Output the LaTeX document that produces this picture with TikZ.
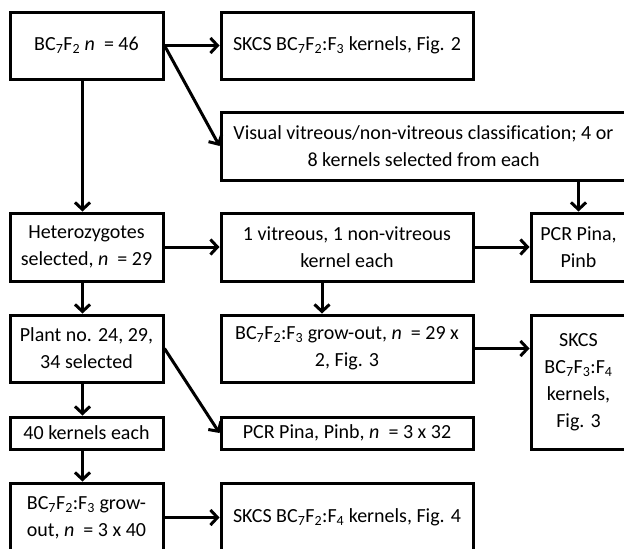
\documentclass[tikz,border=0pt]{standalone}
\usepackage{fontspec}
\setmainfont{Carlito}[Ligatures=NoCommon]
\usetikzlibrary{arrows.meta}
\newcommand\sbs[1]{\textsubscript{#1}}
\begin{document}
\begin{tikzpicture}[x=1pt,y=-1pt,
  box/.style={draw, line width=3pt, rectangle, inner sep=0pt, align=center,
    font=\fontsize{20}{27}\selectfont},
  arr/.style={line width=3pt, -{Straight Barb[length=7pt,width=15pt,line width=3pt]}}]
\useasboundingbox (0,0) rectangle (624,549);
\fill[white] (0,0) rectangle (624,549);
\clip (0,0) rectangle (624,549);
% left column
\node[box, minimum width=153pt, minimum height=67pt] (A) at (86.5,45.5) {BC\sbs{7}F\sbs{2} \textit{n} \ = 46};
\node[box, minimum width=153pt, minimum height=68pt] (D) at (86.5,247) {Heterozygotes\\selected, \textit{n} \ = 29};
\node[box, minimum width=153pt, minimum height=67pt] (G) at (86.5,348.5) {Plant no. 24, 29,\\34 selected};
\node[box, minimum width=153pt, minimum height=32pt] (J) at (86.5,433) {40 kernels each};
\node[box, minimum width=153pt, minimum height=69pt] (L) at (86.5,517.5) {BC\sbs{7}F\sbs{2}:F\sbs{3} grow-\\out, \textit{n} \ = 3 x 40};
% middle column
\node[box, minimum width=252pt, minimum height=67pt] (B) at (347,45.5) {SKCS BC\sbs{7}F\sbs{2}:F\sbs{3} kernels, Fig. 2};
\node[box, minimum width=405pt, minimum height=68pt] (C) at (423.5,146) {Visual vitreous/non-vitreous classification; 4 or\\8 kernels selected from each};
\node[box, minimum width=252pt, minimum height=68pt] (E) at (347,247) {1 vitreous, 1 non-vitreous\\kernel each};
\node[box, minimum width=252pt, minimum height=67pt] (H) at (347,348.5) {BC\sbs{7}F\sbs{2}:F\sbs{3} grow-out, \textit{n} \ = 29 x\\2, Fig. 3};
\node[box, minimum width=252pt, minimum height=32pt] (K) at (347,433) {PCR Pina, Pinb, \textit{n} \ = 3 x 32};
\node[box, minimum width=252pt, minimum height=69pt] (M) at (347,517.5) {SKCS BC\sbs{7}F\sbs{2}:F\sbs{4} kernels, Fig. 4};
% right column
\node[box, minimum width=95pt, minimum height=68pt] (F) at (578.5,247) {PCR Pina,\\Pinb};
\node[box, minimum width=95pt, minimum height=134pt] (I) at (578.5,382) {SKCS\\BC\sbs{7}F\sbs{3}:F\sbs{4}\\kernels,\\Fig. 3};
% arrows
\draw[arr] (A.east) -- (B.west);
\draw[arr] (A.east) -- (C.west);
\draw[arr] ([xshift=-4pt]A.south) -- ([xshift=-4pt]D.north);
\draw[arr] (F.north |- C.south) -- (F.north);
\draw[arr] (D.east) -- (E.west);
\draw[arr] (E.east) -- (F.west);
\draw[arr] ([xshift=-4pt]D.south) -- ([xshift=-4pt]G.north);
\draw[arr] ([xshift=-25pt]E.south) -- ([xshift=-25pt]H.north);
\draw[arr] (H.east) -- (H.east -| I.west);
\draw[arr] ([xshift=-4pt]G.south) -- ([xshift=-4pt]J.north);
\draw[arr] (G.east) -- (K.west);
\draw[arr] ([xshift=-4pt]J.south) -- ([xshift=-4pt]L.north);
\draw[arr] (L.east) -- (M.west);
\end{tikzpicture}
\end{document}
